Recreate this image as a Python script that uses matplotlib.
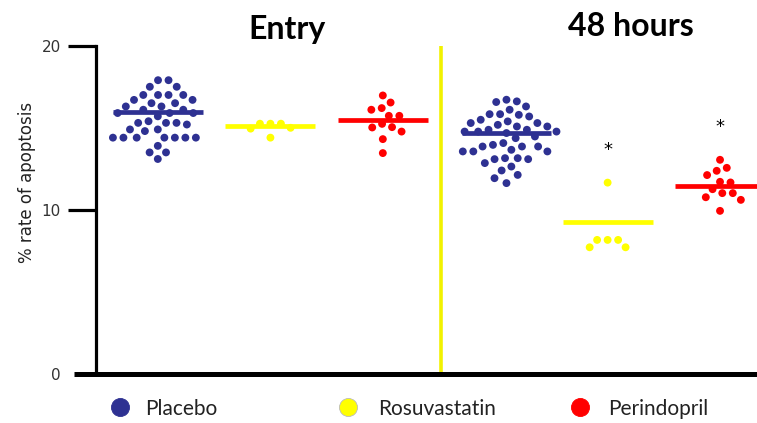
import numpy as np
import matplotlib
matplotlib.use("Agg")
import matplotlib.pyplot as plt
from matplotlib.lines import Line2D

# values (% rate of apoptosis)
groups = ["Placebo", "Rosuvastatin", "Perindopril"]
placebo_entry = [17.9, 17.9, 17.5, 17.5, 17.0, 17.0, 17.0, 17.0, 16.7, 16.7,
                 16.5, 16.5, 16.3, 16.3, 16.1, 16.1, 15.9, 15.9, 15.9, 15.7,
                 15.4, 15.3, 15.3, 15.3, 15.2, 14.9, 14.9, 14.8, 14.4, 14.4,
                 14.4, 14.4, 14.4, 14.4, 14.4, 13.9, 13.5, 13.5, 13.1]
rosu_entry = [15.25, 15.25, 15.25, 15.0, 14.95, 14.4]
peri_entry = [16.97, 16.54, 16.2, 16.1, 15.73, 15.73, 15.24, 15.04, 15.02,
              14.77, 14.31, 13.46]
placebo_48h = [16.71, 16.61, 16.57, 16.3, 16.1, 15.83, 15.83, 15.79, 15.69,
               15.49, 15.39, 15.29, 15.29, 15.18, 15.08, 15.08, 14.88, 14.88,
               14.77, 14.77, 14.77, 14.68, 14.47, 14.37, 14.07, 13.96, 13.86,
               13.86, 13.86, 13.66, 13.56, 13.56, 13.56, 13.15, 13.15, 13.09,
               13.09, 12.85, 12.64, 12.4, 12.13, 11.93, 11.63]
rosu_48h = [11.66, 8.17, 8.17, 8.17, 7.72, 7.72]
peri_48h = [13.05, 12.56, 12.38, 12.12, 11.71, 11.67, 11.26, 11.02, 11.02,
            10.77, 10.61, 9.94]
mean_lines = [15.99, 15.08, 15.49, 14.68, 9.29, 11.46]
significant = [False, False, False, False, True, True]
panel_titles = ["Entry", "48 hours"]
y_ticks = [0, 10, 20]

series = [placebo_entry, rosu_entry, peri_entry, placebo_48h, rosu_48h, peri_48h]
colors = ["#2E3192", "#FFFF00", "#FF0000"]
group_x = [0, 1, 2, 3.1, 4, 5]
divider_x = 2.52

fig = plt.figure(figsize=(7.57, 4.23), dpi=100)
ax = fig.add_axes([0.1262, 0.1158, 0.8738, 0.7761])
ax.set_xlim(-0.556, 5.329)
ax.set_ylim(0, 20)


def swarm(xc, vals, d):
    # simple beeswarm in pixel space, returns x offsets in data units
    pix = ax.transData.transform(np.column_stack([np.full(len(vals), xc), vals]))
    ys = pix[:, 1]
    order = np.argsort(-ys)
    placed = []
    offs = np.zeros(len(vals))
    for n, i in enumerate(order):
        cands = [0.0]
        for px, py in placed:
            dy = ys[i] - py
            if abs(dy) < d:
                w = np.sqrt(d * d - dy * dy)
                cands += [px + w, px - w]
        side = 1 if n % 2 else -1
        cands.sort(key=lambda c: (round(abs(c), 3), -side * c))
        for c in cands:
            ok = all((c - px) ** 2 + (ys[i] - py) ** 2 >= d * d - 1e-6 for px, py in placed)
            if ok:
                offs[i] = c
                placed.append((c, ys[i]))
                break
    x0 = ax.transData.transform((0, 0))[0]
    x1 = ax.transData.transform((1, 0))[0]
    return offs / (x1 - x0)


ax.axvline(divider_x, color="#F2F200", lw=2.6, zorder=1)

for k, vals in enumerate(series):
    col = colors[k % 3]
    dx = swarm(group_x[k], vals, 10.5)
    ax.scatter(group_x[k] + dx, vals, s=32, color=col, edgecolors="none",
               zorder=3, clip_on=False)
    ax.plot([group_x[k] - 0.4, group_x[k] + 0.4], [mean_lines[k]] * 2,
            color=col, lw=3.4, solid_capstyle="butt", zorder=4, clip_on=False)
    if significant[k]:
        ax.text(group_x[k], max(vals) + 2.0, "*", ha="center", va="center",
                fontsize=13, color="black")

for s in ["top", "right"]:
    ax.spines[s].set_visible(False)
ax.spines["left"].set_linewidth(2.3)
ax.spines["left"].set_bounds(0, 20)
ax.spines["bottom"].set_linewidth(3.6)
ax.set_xticks([])
ax.set_yticks(y_ticks)
ax.tick_params(axis="y", length=20, width=2.3, pad=5, labelsize=11,
               labelcolor="#333333")
ax.yaxis.get_major_ticks()[0].tick1line.set_markeredgewidth(3.6)
ax.yaxis.get_major_ticks()[0].tick1line.set_markersize(16)

fig.text(27 / 757, 1 - 182 / 423, "% rate of apoptosis", rotation=90,
         ha="center", va="center", fontsize=12, color="#222222")

fig.text(287 / 757, 1 - 29 / 423, panel_titles[0], ha="center", va="center",
         fontsize=23, fontweight="bold", family="Lato")
fig.text(631 / 757, 1 - 27 / 423, panel_titles[1], ha="center", va="center",
         fontsize=23, fontweight="bold", family="Lato")

# legend along the bottom
for name, col, mx, tx in zip(groups, colors, [120, 348, 580], [145, 378, 608]):
    fig.add_artist(Line2D([mx / 757], [1 - 407 / 423], marker="o", markersize=13,
                          color=col, markeredgecolor="#bbbbbb" if col == "#FFFF00" else col,
                          markeredgewidth=0.6, transform=fig.transFigure))
    fig.text(tx / 757, 1 - 409 / 423, name, ha="left", va="center",
             fontsize=15, family="Lato", color="#222222")

fig.savefig("out.png", dpi=100)
